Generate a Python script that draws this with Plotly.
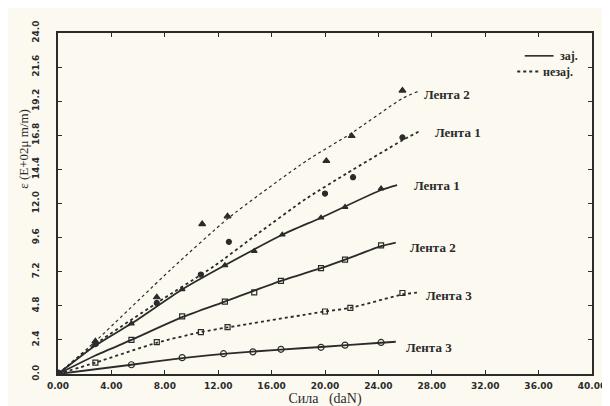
import plotly.graph_objects as go

# ---- data ----
F_l1_zaj = [2.8, 5.5, 9.3, 12.5, 14.7, 16.8, 19.7, 21.5, 24.2]
E_l1_zaj = [2.1, 3.55, 5.95, 7.65, 8.65, 9.8, 11.0, 11.75, 13.05]

F_l2_zaj = [5.5, 9.3, 12.5, 14.7, 16.7, 19.7, 21.5, 24.2]
E_l2_zaj = [2.4, 4.05, 5.1, 5.75, 6.55, 7.45, 8.05, 9.05]

F_l3_zaj = [5.5, 9.3, 12.4, 14.6, 16.7, 19.7, 21.5, 24.2]
E_l3_zaj = [0.65, 1.15, 1.43, 1.56, 1.74, 1.88, 2.03, 2.22]

F_l1_nez = [2.8, 7.4, 10.7, 12.8, 20.0, 22.1, 25.8]
E_l1_nez = [2.1, 5.0, 7.0, 9.3, 12.7, 13.85, 16.65]

F_l2_nez = [2.8, 7.4, 10.8, 12.7, 20.1, 22.0, 25.8]
E_l2_nez = [2.3, 5.4, 10.55, 11.1, 15.0, 16.75, 19.95]

F_l3_nez = [2.8, 7.4, 10.7, 12.7, 20.0, 21.9, 25.8]
E_l3_nez = [0.8, 2.25, 2.95, 3.3, 4.4, 4.65, 5.7]

# fitted curves
fitF_l1_zaj = [0, 2.8, 5.5, 9.3, 12.5, 16.8, 19.7, 24.2, 25.4]
fitE_l1_zaj = [0, 2.0, 3.55, 5.95, 7.65, 9.8, 11.0, 12.95, 13.3]
fitF_l2_zaj = [0, 2.8, 5.5, 9.3, 12.5, 16.7, 19.7, 21.5, 24.2, 25.3]
fitE_l2_zaj = [0, 1.3, 2.4, 4.0, 5.1, 6.55, 7.45, 8.05, 9.0, 9.25]
fitF_l3_zaj = [0, 5.5, 9.3, 12.4, 16.7, 19.7, 24.2, 25.3]
fitE_l3_zaj = [0, 0.65, 1.12, 1.42, 1.72, 1.9, 2.2, 2.27]
fitF_l1_nez = [0, 2.8, 7.4, 11.7, 15.0, 18.6, 21.6, 25.8, 27.1]
fitE_l1_nez = [0, 2.1, 5.0, 7.6, 9.9, 12.35, 14.1, 16.45, 17.1]
fitF_l2_nez = [0, 2.8, 8.5, 12.8, 18.6, 21.9, 25.8, 27.0]
fitE_l2_nez = [0, 2.3, 7.4, 11.0, 15.0, 16.9, 19.4, 19.9]
fitF_l3_nez = [0, 2.8, 7.4, 10.7, 12.7, 20.0, 21.9, 25.8, 27.1]
fitE_l3_nez = [0, 0.8, 2.2, 2.95, 3.28, 4.4, 4.65, 5.6, 5.75]

x_ticks = [0, 4, 8, 12, 16, 20, 24, 28, 32, 36, 40]
y_ticks = [0, 2.4, 4.8, 7.2, 9.6, 12.0, 14.4, 16.8, 19.2, 21.6, 24.0]

curve_labels = ["Лента 2", "Лента 1", "Лента 1", "Лента 2", "Лента 3", "Лента 3"]
legend_labels = ["зај.", "незај."]
x_title = "Сила   (daN)"
y_title = "ε (E+02μ m/m)"

INK = "#2b2b2b"
BG = "#fbf9f0"
SERIF = "Liberation Serif"

fig = go.Figure()

def curve(x, y, dash, width=1.6):
    fig.add_trace(go.Scatter(x=x, y=y, mode="lines", line=dict(color=INK, width=width, dash=dash, shape="spline", smoothing=0.6),
                             showlegend=False, hoverinfo="skip"))

def pts(x, y, symbol, size=6):
    fig.add_trace(go.Scatter(x=x, y=y, mode="markers",
                             marker=dict(symbol=symbol, size=size, color=INK, line=dict(color=INK, width=1.2)),
                             showlegend=False))

curve(fitF_l2_nez, fitE_l2_nez, "dot", 1.2)
curve(fitF_l1_nez, fitE_l1_nez, "dot", 1.8)
curve(fitF_l3_nez, fitE_l3_nez, "dot", 1.8)
curve(fitF_l1_zaj, fitE_l1_zaj, "solid", 1.8)
curve(fitF_l2_zaj, fitE_l2_zaj, "solid", 1.8)
curve(fitF_l3_zaj, fitE_l3_zaj, "solid", 1.8)

pts(F_l2_nez, E_l2_nez, "triangle-up", 6)
pts(F_l1_nez, E_l1_nez, "circle", 5)
pts(F_l3_nez, E_l3_nez, "square-open", 5)
pts(F_l1_zaj, E_l1_zaj, "triangle-up", 5)
pts(F_l2_zaj, E_l2_zaj, "square-open", 5)
pts(F_l3_zaj, E_l3_zaj, "circle-open", 6)
pts([0], [0], "circle", 8)

# curve end labels
label_pos = [(27.3, 19.7), (28.1, 17.0), (26.5, 13.3), (26.2, 8.9), (27.4, 5.55), (25.9, 1.85)]
for txt, (lx, ly) in zip(curve_labels, label_pos):
    fig.add_annotation(x=lx, y=ly, text=txt, showarrow=False, xanchor="left", yanchor="middle",
                       font=dict(family=SERIF, size=13, color=INK, weight="bold"))

# hand-drawn style legend
fig.add_shape(type="line", xref="paper", yref="paper", x0=0.874, x1=0.928, y0=0.933, y1=0.933,
              line=dict(color=INK, width=1.6))
fig.add_shape(type="line", xref="paper", yref="paper", x0=0.860, x1=0.900, y0=0.887, y1=0.887,
              line=dict(color=INK, width=2, dash="dot"))
fig.add_annotation(xref="paper", yref="paper", x=0.936, y=0.933, text=legend_labels[0], showarrow=False,
                   xanchor="left", yanchor="middle", font=dict(family=SERIF, size=12, color=INK, weight="bold"))
fig.add_annotation(xref="paper", yref="paper", x=0.905, y=0.887, text=legend_labels[1], showarrow=False,
                   xanchor="left", yanchor="middle", font=dict(family=SERIF, size=12, color=INK, weight="bold"))

# y title
fig.add_annotation(xref="paper", yref="paper", x=-0.064, y=0.66, text=y_title, textangle=-90, showarrow=False,
                   xanchor="center", yanchor="middle", font=dict(family=SERIF, size=13, color=INK))

axis_common = dict(showgrid=False, zeroline=False, showline=True, linecolor=INK, linewidth=1.6, mirror="ticks",
                   ticks="inside", ticklen=4, tickcolor=INK, tickwidth=1.2,
                   tickfont=dict(family="DejaVu Sans", size=9, color=INK, weight="bold"))

fig.update_xaxes(range=[0, 40], tickvals=x_ticks, ticktext=[f"{v:.2f}" for v in x_ticks],
                 ticklabelstandoff=2,
                 title=dict(text=x_title, font=dict(family=SERIF, size=14, color=INK), standoff=2),
                 **axis_common)
fig.update_yaxes(range=[0, 24], tickvals=y_ticks, ticktext=[f"{v:.1f}" for v in y_ticks], tickangle=-90,
                 ticklabelstandoff=14, **axis_common)

fig.update_layout(width=610, height=406, margin=dict(l=50, r=20, t=25, b=36),
                  paper_bgcolor=BG, plot_bgcolor=BG, showlegend=False)

fig.write_html("out.html")
